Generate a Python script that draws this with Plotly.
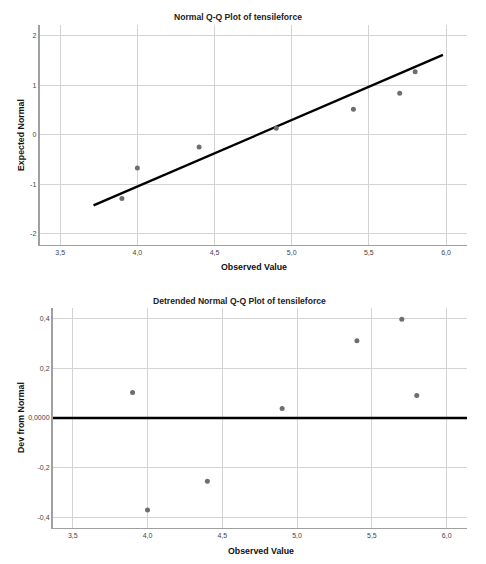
import plotly.graph_objects as go

# ---- data ----
observed = [3.9, 4.0, 4.4, 4.9, 5.4, 5.7, 5.8]
expected_normal = [-1.29, -0.67, -0.25, 0.13, 0.515, 0.84, 1.275]
dev_from_normal = [0.102, -0.369, -0.254, 0.038, 0.31, 0.396, 0.090]

ref_line_x = [3.716, 5.98]
ref_line_y = [-1.43, 1.615]
zero_line_x = [3.366, 6.136]
zero_line_y = [0.0, 0.0]

x_tickvals = [3.5, 4.0, 4.5, 5.0, 5.5, 6.0]
x_ticktext = ["3,5", "4,0", "4,5", "5,0", "5,5", "6,0"]
y1_tickvals = [-2, -1, 0, 1, 2]
y1_ticktext = ["-2", "-1", "0", "1", "2"]
y2_tickvals = [-0.4, -0.2, 0.0, 0.2, 0.4]
y2_ticktext = ["-0,4", "-0,2", "0,0000", "0,2", "0,4"]

W, H = 486, 564
FONT = "Liberation Sans, Arial, sans-serif"
MARKER = "#6e6e6e"
GRID = "#d3d3d3"
AXIS = "#a0a0a0"

fig = go.Figure()

fig.add_trace(go.Scatter(x=ref_line_x, y=ref_line_y, mode="lines",
                         line=dict(color="black", width=2.4),
                         xaxis="x", yaxis="y", showlegend=False, hoverinfo="skip"))
fig.add_trace(go.Scatter(x=observed, y=expected_normal, mode="markers",
                         marker=dict(color=MARKER, size=5),
                         xaxis="x", yaxis="y", showlegend=False))

fig.add_trace(go.Scatter(x=zero_line_x, y=zero_line_y, mode="lines",
                         line=dict(color="black", width=2.4),
                         xaxis="x2", yaxis="y2", showlegend=False, hoverinfo="skip"))
fig.add_trace(go.Scatter(x=observed, y=dev_from_normal, mode="markers",
                         marker=dict(color=MARKER, size=5),
                         xaxis="x2", yaxis="y2", showlegend=False))

def px_x(p):
    return p / W

def px_y(p):
    return 1 - p / H

tick_font = dict(family=FONT, size=7, color="#444444")

common_x = dict(range=[3.366, 6.136], tickvals=x_tickvals, ticktext=x_ticktext,
                showgrid=True, gridcolor=GRID, gridwidth=1.2, zeroline=False,
                showline=True, linecolor=AXIS, linewidth=1.2, ticks="",
                tickfont=tick_font, fixedrange=True)

fig.update_layout(
    width=W, height=H,
    margin=dict(l=0, r=0, t=0, b=0),
    paper_bgcolor="white", plot_bgcolor="white",
    xaxis=dict(domain=[px_x(39.5), px_x(467)], anchor="y", **common_x),
    yaxis=dict(domain=[px_y(245), px_y(25)], anchor="x", range=[-2.23, 2.22],
               tickvals=y1_tickvals, ticktext=y1_ticktext,
               showgrid=True, gridcolor=GRID, gridwidth=1.2, zeroline=False,
               showline=True, linecolor=AXIS, linewidth=1.5, ticks="",
               tickfont=tick_font, fixedrange=True),
    xaxis2=dict(domain=[px_x(52.7), px_x(467)], anchor="y2", **common_x),
    yaxis2=dict(domain=[px_y(528.3), px_y(308.3)], anchor="x2", range=[-0.4425, 0.44],
                tickvals=y2_tickvals, ticktext=y2_ticktext,
                showgrid=True, gridcolor=GRID, gridwidth=1.2, zeroline=False,
                showline=True, linecolor=AXIS, linewidth=1.5, ticks="",
                tickfont=tick_font, fixedrange=True),
)

title_font = dict(family=FONT, size=8.6, color="#222222")
axis_title_font = dict(family=FONT, size=8.8, color="#111111")

annotations = [
    dict(text="<b>Normal Q-Q Plot of tensileforce</b>", x=px_x(238), y=px_y(17),
         font=title_font),
    dict(text="<b>Observed Value</b>", x=px_x(254), y=px_y(267), font=axis_title_font),
    dict(text="<b>Expected Normal</b>", x=px_x(21), y=px_y(135), textangle=-90,
         font=axis_title_font),
    dict(text="<b>Detrended Normal Q-Q Plot of tensileforce</b>", x=px_x(239), y=px_y(300.7),
         font=title_font),
    dict(text="<b>Observed Value</b>", x=px_x(261), y=px_y(551), font=axis_title_font),
    dict(text="<b>Dev from Normal</b>", x=px_x(21), y=px_y(418), textangle=-90,
         font=axis_title_font),
]
for a in annotations:
    a.update(xref="paper", yref="paper", showarrow=False, xanchor="center", yanchor="middle")
fig.update_layout(annotations=annotations)

fig.write_html("out.html")
